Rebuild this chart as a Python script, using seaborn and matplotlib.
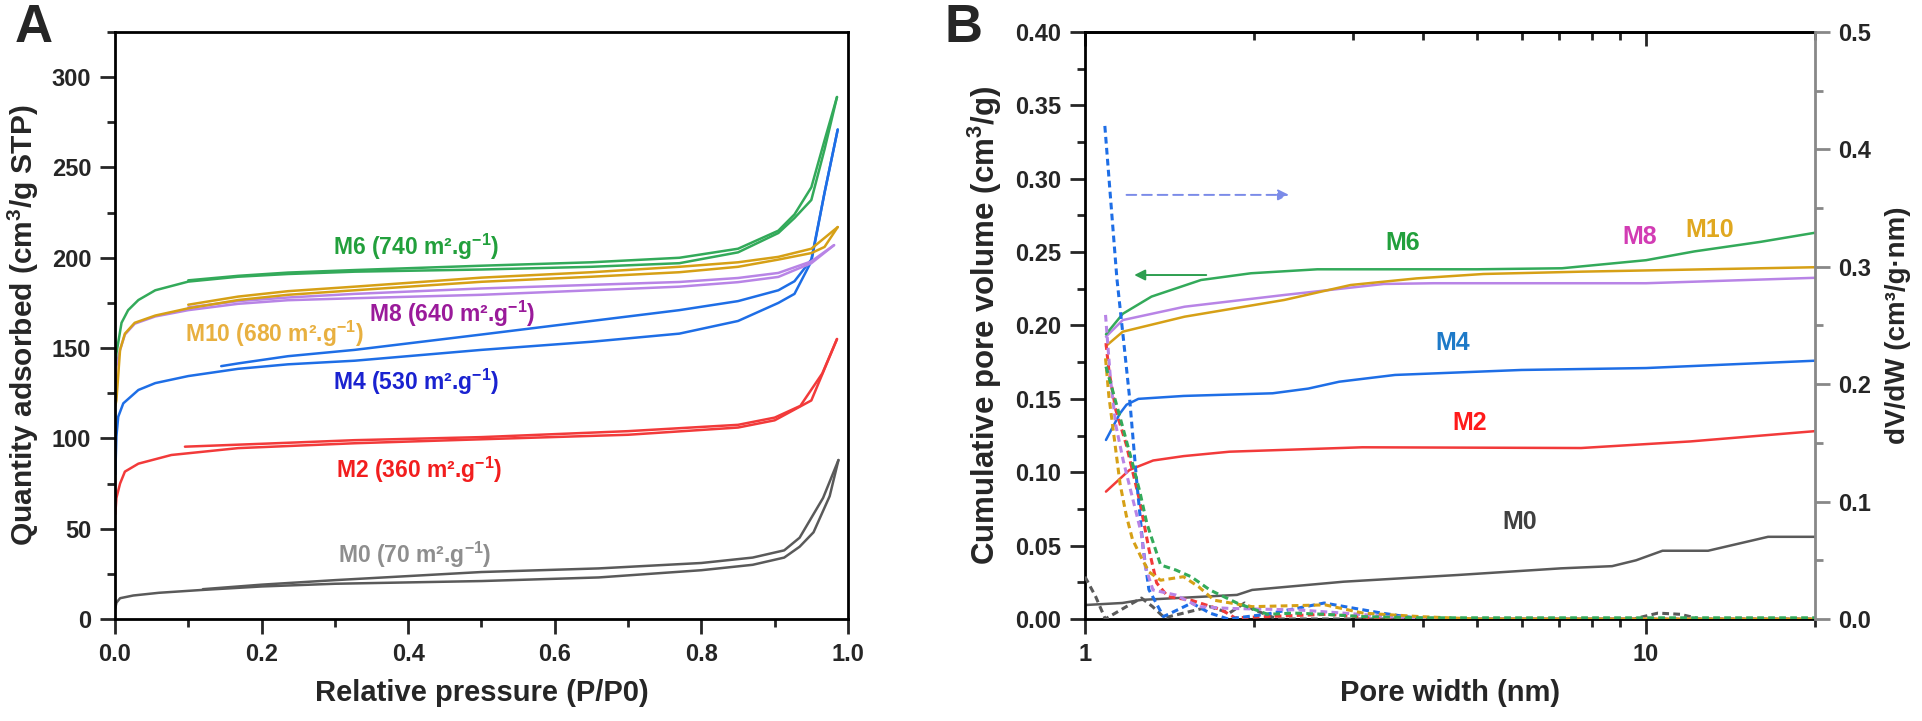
import numpy as np
import pandas as pd
import matplotlib
matplotlib.use("Agg")
import matplotlib.pyplot as plt
import seaborn as sns
from matplotlib.ticker import MultipleLocator, FixedLocator, NullFormatter, FormatStrFormatter, FixedFormatter

# ---------------- Panel A data: N2 isotherms (P/P0, cm3/g STP) ----------------
p_ads_M0 = [0.0005, 0.002, 0.007, 0.025, 0.06, 0.116, 0.2, 0.3, 0.5, 0.66, 0.8, 0.87, 0.913, 0.934, 0.953, 0.975, 0.987]
q_ads_M0 = [6, 9, 11.5, 13, 14.5, 16, 18, 19.5, 21, 23, 27, 30, 34, 40, 48, 68, 88]
p_des_M0 = [0.987, 0.966, 0.934, 0.913, 0.87, 0.8, 0.66, 0.5, 0.3, 0.2, 0.12]
q_des_M0 = [88, 67, 45, 38, 34, 31, 28, 26, 21.5, 19, 16.5]

p_ads_M2 = [0.0005, 0.002, 0.007, 0.0136, 0.032, 0.077, 0.168, 0.327, 0.5, 0.7, 0.85, 0.9, 0.95, 0.985]
q_ads_M2 = [58, 67, 75, 81.6, 86, 90.8, 94.6, 97.3, 99.5, 102, 106, 110, 121, 155]
p_des_M2 = [0.985, 0.965, 0.935, 0.9, 0.85, 0.7, 0.5, 0.327, 0.2, 0.0955]
q_des_M2 = [155, 136, 118, 111.5, 107.5, 104, 100.7, 99, 97, 95.4]

p_ads_M4 = [0.0005, 0.002, 0.0045, 0.0114, 0.032, 0.055, 0.1, 0.168, 0.236, 0.327, 0.5, 0.65, 0.77, 0.85,
            0.905, 0.927, 0.95, 0.968, 0.986]
q_ads_M4 = [80, 101, 112, 119.4, 126.8, 130.6, 134.5, 138.5, 141, 143, 149, 153.5, 158, 165,
            175, 180, 198, 236, 271]
p_des_M4 = [0.986, 0.968, 0.95, 0.927, 0.905, 0.85, 0.77, 0.65, 0.5, 0.327, 0.236, 0.168, 0.145]
q_des_M4 = [271, 236, 199, 187, 182, 176, 171, 165, 157.5, 149, 145.5, 141.5, 140]

p_ads_M6 = [0.0005, 0.002, 0.009, 0.018, 0.032, 0.055, 0.1, 0.168, 0.236, 0.327, 0.5, 0.65, 0.77, 0.85,
            0.905, 0.927, 0.95, 0.968, 0.985]
q_ads_M6 = [140, 147, 164, 171, 176.6, 182, 186.8, 189.5, 191, 192.3, 193.5, 195, 197, 203,
            213.7, 222, 232, 260, 289]
p_des_M6 = [0.985, 0.968, 0.95, 0.927, 0.905, 0.85, 0.77, 0.65, 0.5, 0.327, 0.236, 0.168, 0.1]
q_des_M6 = [289, 265, 239, 224, 215, 205, 200, 197.5, 195.6, 193.2, 191.8, 190, 187.5]

p_ads_M8 = [0.0005, 0.002, 0.007, 0.0136, 0.027, 0.055, 0.1, 0.168, 0.236, 0.327, 0.5, 0.65, 0.77, 0.85,
            0.905, 0.95, 0.981]
q_ads_M8 = [126, 140, 149, 157.5, 163.5, 167.5, 171, 174.5, 176.5, 177.6, 179.5, 182, 184, 186.5,
            189.4, 197, 207]
p_des_M8 = [0.981, 0.95, 0.905, 0.85, 0.77, 0.65, 0.5, 0.327, 0.236, 0.168, 0.1]
q_des_M8 = [207, 198, 191.6, 188.8, 186.6, 185, 183, 180, 178, 176, 172.5]

p_ads_M10 = [0.0005, 0.002, 0.007, 0.0136, 0.027, 0.055, 0.1, 0.168, 0.236, 0.327, 0.5, 0.65, 0.77, 0.85,
             0.905, 0.95, 0.968, 0.986]
q_ads_M10 = [118, 121, 149, 158, 164, 168, 172, 176.6, 179.5, 182, 186.7, 189.5, 192, 195,
             199, 202.6, 206, 217]
p_des_M10 = [0.986, 0.968, 0.95, 0.905, 0.85, 0.77, 0.65, 0.5, 0.327, 0.236, 0.168, 0.1]
q_des_M10 = [217, 211, 205, 200.5, 197.5, 195, 192, 189, 184, 181.5, 178.5, 174]

labels_A = ["M0 (70 m².g$^{-1}$)", "M2 (360 m².g$^{-1}$)", "M4 (530 m².g$^{-1}$)",
            "M6 (740 m².g$^{-1}$)", "M8 (640 m².g$^{-1}$)", "M10 (680 m².g$^{-1}$)"]

# ---------------- Panel B data: pore width (nm) ----------------
# cumulative pore volume (cm3/g), left axis
w_cum_M0 = [1.0, 1.166, 1.26, 1.5, 1.866, 1.986, 2.89, 4.63, 7.05, 8.7, 9.6, 10.7, 12.9, 16.5, 20]
v_cum_M0 = [0.0095, 0.0109, 0.013, 0.0145, 0.0164, 0.0198, 0.0254, 0.030, 0.0345, 0.036, 0.040, 0.0465, 0.0465, 0.056, 0.056]
w_cum_M2 = [1.09, 1.2, 1.245, 1.323, 1.5, 1.81, 3.12, 7.66, 12.0, 20]
v_cum_M2 = [0.0868, 0.1015, 0.104, 0.108, 0.111, 0.114, 0.117, 0.1165, 0.121, 0.128]
w_cum_M4 = [1.09, 1.154, 1.186, 1.245, 1.5, 2.16, 2.5, 2.84, 3.57, 6.0, 10.0, 20]
v_cum_M4 = [0.122, 0.140, 0.146, 0.150, 0.152, 0.1538, 0.157, 0.1617, 0.1663, 0.1697, 0.171, 0.176]
w_cum_M6 = [1.09, 1.168, 1.314, 1.61, 1.977, 2.595, 5.0, 7.08, 10.0, 12.2, 16.0, 20]
v_cum_M6 = [0.194, 0.208, 0.2197, 0.231, 0.2356, 0.2383, 0.2383, 0.239, 0.2445, 0.2505, 0.257, 0.2632]
w_cum_M8 = [1.09, 1.168, 1.505, 2.266, 3.41, 4.18, 10.0, 20]
v_cum_M8 = [0.1924, 0.2037, 0.2128, 0.2208, 0.2283, 0.2288, 0.2288, 0.2325]
w_cum_M10 = [1.09, 1.168, 1.505, 2.266, 2.976, 3.9, 5.13, 7.7, 20]
v_cum_M10 = [0.186, 0.1958, 0.206, 0.2174, 0.2276, 0.2321, 0.2351, 0.2367, 0.2397]

# dV/dW (cm3/g.nm), right axis
w_psd_M0 = [1.0, 1.045, 1.087, 1.185, 1.261, 1.32, 1.386, 1.498, 1.67, 1.808, 1.925, 1.986, 2.2, 4.0, 9.5, 10.5, 11.5, 12.5, 20]
d_psd_M0 = [0.036, 0.019, 0.0, 0.0105, 0.0178, 0.0105, 0.001, 0.005, 0.0105, 0.005, 0.0136, 0.0085, 0.0, 0.0, 0.0, 0.005, 0.004, 0.0, 0.0]
w_psd_M2 = [1.09, 1.104, 1.135, 1.184, 1.251, 1.301, 1.342, 1.406, 1.546, 1.752, 1.85, 2.7, 3.5, 20]
d_psd_M2 = [0.235, 0.2105, 0.178, 0.149, 0.101, 0.0588, 0.0307, 0.019, 0.016, 0.0077, 0.001, 0.004, 0.0, 0.0]
w_psd_M4 = [1.085, 1.11, 1.14, 1.17, 1.20, 1.235, 1.27, 1.30, 1.38, 1.55, 1.67, 1.8, 2.1, 2.67, 3.38, 4.0, 20]
d_psd_M4 = [0.42, 0.36, 0.29, 0.24, 0.19, 0.12, 0.06, 0.025, 0.002, 0.0136, 0.005, 0.0, 0.004, 0.0136, 0.005, 0.0, 0.0]
w_psd_M6 = [1.09, 1.15, 1.218, 1.253, 1.289, 1.364, 1.452, 1.546, 1.67, 1.866, 2.116, 2.36, 2.67, 3.13, 4.0, 20]
d_psd_M6 = [0.215, 0.175, 0.131, 0.108, 0.0815, 0.046, 0.0417, 0.036, 0.0247, 0.0136, 0.004, 0.005, 0.004, 0.002, 0.001, 0.001]
w_psd_M8 = [1.088, 1.11, 1.135, 1.17, 1.22, 1.26, 1.281, 1.322, 1.452, 1.594, 1.808, 2.397, 2.89, 3.5, 4.5, 20]
d_psd_M8 = [0.259, 0.205, 0.165, 0.135, 0.10, 0.073, 0.0446, 0.0247, 0.0204, 0.0105, 0.009, 0.0077, 0.005, 0.002, 0.0, 0.0]
w_psd_M10 = [1.088, 1.103, 1.127, 1.155, 1.185, 1.215, 1.261, 1.301, 1.364, 1.498, 1.594, 1.699, 1.986, 2.68, 3.13, 3.96, 5.0, 20]
d_psd_M10 = [0.222, 0.19, 0.155, 0.115, 0.088, 0.068, 0.052, 0.040, 0.033, 0.036, 0.0275, 0.016, 0.0105, 0.012, 0.005, 0.002, 0.0, 0.0]

labels_B = ["M0", "M2", "M4", "M6", "M8", "M10"]

# ---------------- styling ----------------
sns.set_style("ticks")
plt.rcParams["font.family"] = ["Liberation Sans", "DejaVu Sans"]
plt.rcParams["font.weight"] = "bold"
plt.rcParams["axes.labelweight"] = "bold"
plt.rcParams["mathtext.fontset"] = "custom"
plt.rcParams["mathtext.rm"] = "Liberation Sans:bold"
plt.rcParams["mathtext.bf"] = "Liberation Sans:bold"
plt.rcParams["mathtext.it"] = "Liberation Sans:bold"
plt.rcParams["mathtext.default"] = "bf"

c_M0, c_M2, c_M4, c_M6, c_M8, c_M10 = "#5A5A5A", "#F23A3A", "#1E6EE6", "#33AA5A", "#B884E6", "#D6A016"

fig = plt.figure(figsize=(19.22, 7.21), dpi=100)
axA = fig.add_axes([0.0598, 0.1415, 0.3814, 0.8141])
axB = fig.add_axes([0.5645, 0.1415, 0.3798, 0.8141])
axR = axB.twinx()


def draw(ax, x, y, color, ls="-", lw=1.8):
    sns.lineplot(x=np.asarray(x, float), y=np.asarray(y, float), ax=ax, color=color, sort=False,
                 estimator=None, linewidth=lw, linestyle=ls, legend=False)


# ---- Panel A ----
seriesA = [
    (p_ads_M0, q_ads_M0, p_des_M0, q_des_M0, c_M0),
    (p_ads_M2, q_ads_M2, p_des_M2, q_des_M2, c_M2),
    (p_ads_M4, q_ads_M4, p_des_M4, q_des_M4, c_M4),
    (p_ads_M8, q_ads_M8, p_des_M8, q_des_M8, c_M8),
    (p_ads_M10, q_ads_M10, p_des_M10, q_des_M10, c_M10),
    (p_ads_M6, q_ads_M6, p_des_M6, q_des_M6, c_M6),
]
for pa, qa, pd_, qd, col in seriesA:
    draw(axA, pa, qa, col)
    draw(axA, pd_, qd, col)

axA.set_xlim(0, 1.0)
axA.set_ylim(0, 325)
axA.xaxis.set_major_locator(MultipleLocator(0.2))
axA.xaxis.set_minor_locator(MultipleLocator(0.1))
axA.yaxis.set_major_locator(MultipleLocator(50))
axA.yaxis.set_minor_locator(MultipleLocator(25))
axA.xaxis.set_major_formatter(FormatStrFormatter("%.1f"))
axA.yaxis.set_major_formatter(FormatStrFormatter("%d"))
axA.tick_params(which="both", direction="out", width=2, top=False, right=False, labelsize=17, pad=6)
axA.tick_params(which="major", length=11)
axA.tick_params(which="minor", length=6)
for s in axA.spines.values():
    s.set_linewidth(2)
    s.set_color("black")
axA.set_xlabel("Relative pressure (P/P0)", fontsize=21, labelpad=10)
axA.set_ylabel("Quantity adsorbed (cm$^{3}$/g STP)", fontsize=21.5, labelpad=8)

textA = [
    (0.304, 35.4, labels_A[0], "#8E8E8E"),
    (0.302, 82.5, labels_A[1], "#F21E1E"),
    (0.297, 131, labels_A[2], "#1A22D0"),
    (0.297, 206, labels_A[3], "#22A03C"),
    (0.347, 169, labels_A[4], "#9A1A9A"),
    (0.095, 158, labels_A[5], "#E8B040"),
]
for x, y, t, col in textA:
    axA.text(x, y, t, color=col, fontsize=16.5, fontweight="bold", ha="left", va="center")

# ---- Panel B ----
axB.set_xscale("log")
seriesB = [
    (w_cum_M0, v_cum_M0, w_psd_M0, d_psd_M0, c_M0),
    (w_cum_M2, v_cum_M2, w_psd_M2, d_psd_M2, c_M2),
    (w_cum_M4, v_cum_M4, w_psd_M4, d_psd_M4, c_M4),
    (w_cum_M8, v_cum_M8, w_psd_M8, d_psd_M8, c_M8),
    (w_cum_M10, v_cum_M10, w_psd_M10, d_psd_M10, c_M10),
    (w_cum_M6, v_cum_M6, w_psd_M6, d_psd_M6, c_M6),
]
for wc, vc, wp, dp, col in seriesB:
    draw(axB, wc, vc, col)
for wc, vc, wp, dp, col in seriesB:
    draw(axR, wp, dp, col, ls=(0, (2.2, 1.4)), lw=2.2)

axB.set_xlim(1, 20)
axB.set_ylim(0, 0.40)
axR.set_ylim(0, 0.5)
axB.xaxis.set_major_locator(FixedLocator([1, 10]))
axB.xaxis.set_major_formatter(FixedFormatter(["1", "10"]))
axB.xaxis.set_minor_locator(FixedLocator([2, 3, 4, 5, 6, 7, 8, 9, 20]))
axB.xaxis.set_minor_formatter(NullFormatter())
axB.yaxis.set_major_locator(MultipleLocator(0.05))
axB.yaxis.set_minor_locator(MultipleLocator(0.025))
axB.yaxis.set_major_formatter(FormatStrFormatter("%.2f"))
axB.tick_params(which="both", direction="out", width=2, top=False, right=False, labelsize=17, pad=6)
axB.tick_params(which="major", length=11)
axB.tick_params(which="minor", length=6)
for k, s in axB.spines.items():
    s.set_linewidth(2)
    s.set_color("black")
axB.spines["right"].set_visible(False)

top = axB.secondary_xaxis("top")
top.xaxis.set_major_locator(FixedLocator([1, 10]))
top.xaxis.set_minor_locator(FixedLocator([2, 3, 4, 5, 6, 7, 8, 9, 20]))
top.xaxis.set_major_formatter(NullFormatter())
top.xaxis.set_minor_formatter(NullFormatter())
top.tick_params(which="both", direction="in", width=2)
top.tick_params(which="major", length=10)
top.tick_params(which="minor", length=6)
top.spines["top"].set_linewidth(2)

axR.yaxis.set_major_locator(MultipleLocator(0.1))
axR.yaxis.set_minor_locator(MultipleLocator(0.05))
axR.yaxis.set_major_formatter(FormatStrFormatter("%.1f"))
axR.tick_params(which="both", direction="out", width=2, color="#888888", labelsize=17, pad=6)
axR.tick_params(which="major", length=11)
axR.tick_params(which="minor", length=6)
for k in ["left", "top", "bottom"]:
    axR.spines[k].set_visible(False)
axR.spines["right"].set_color("#888888")
axR.spines["right"].set_linewidth(2)

axB.set_xlabel("Pore width (nm)", fontsize=21, labelpad=10)
axB.set_ylabel("Cumulative pore volume (cm$^{3}$/g)", fontsize=22.5, labelpad=8)
axR.set_ylabel("dV/dW (cm³/g·nm)", fontsize=20, labelpad=10)

textB = [
    (5.95, 0.066, labels_B[0], "#404040"),
    (4.85, 0.1335, labels_B[1], "#FF1A1A"),
    (4.52, 0.188, labels_B[2], "#1E7AC8"),
    (3.69, 0.256, labels_B[3], "#22A03C"),
    (9.75, 0.260, labels_B[4], "#D23CB4"),
    (13.0, 0.265, labels_B[5], "#E0A820"),
]
for x, y, t, col in textB:
    axB.text(x, y, t, color=col, fontsize=18, fontweight="bold", ha="center", va="center")

axB.annotate("", xy=(2.31, 0.289), xytext=(1.186, 0.289),
             arrowprops=dict(arrowstyle="-|>", color="#7B8BE8", lw=1.4, linestyle=(0, (5, 3)),
                             mutation_scale=16, shrinkA=0, shrinkB=0))
axB.annotate("", xy=(1.224, 0.2344), xytext=(1.645, 0.2344),
             arrowprops=dict(arrowstyle="-|>", color="#2E9E50", lw=1.4,
                             mutation_scale=16, shrinkA=0, shrinkB=0))

fig.text(15 / 1922, 1 - 28 / 721, "A", fontsize=38, fontweight="bold", ha="left", va="center")
fig.text(945 / 1922, 1 - 28 / 721, "B", fontsize=38, fontweight="bold", ha="left", va="center")

fig.savefig("out.png", dpi=100)
